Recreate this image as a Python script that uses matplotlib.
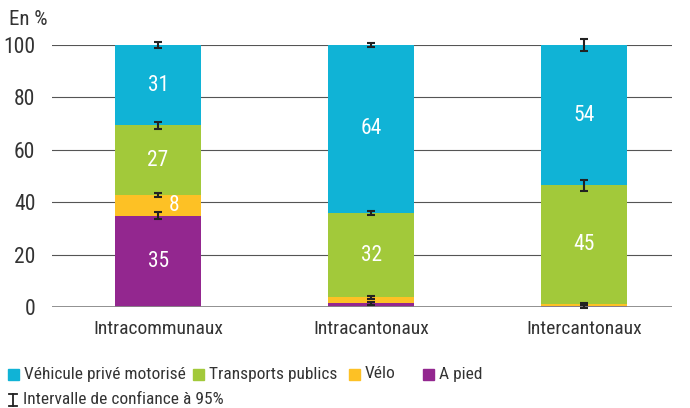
import matplotlib.pyplot as plt
import matplotlib.lines as mlines
import matplotlib.patches as mpatches
from matplotlib import font_manager
import numpy as np

installed = {f.name for f in font_manager.fontManager.ttflist}
narrow = [n for n in ['Liberation Sans Narrow', 'Roboto Condensed', 'Open Sans Condensed',
                      'Noto Sans Condensed', 'DejaVu Sans Condensed'] if n in installed]
if narrow:
    fam, fs = narrow[0], 14
else:
    fam, fs = 'Liberation Sans', 12
plt.rcParams['font.family'] = [fam, 'DejaVu Sans']

categories = ['Intracommunaux', 'Intracantonaux', 'Intercantonaux']
series = ['A pied', 'Vélo', 'Transports publics', 'Véhicule privé motorisé']
a_pied = [34.9, 1.5, 0.3]
velo = [7.7, 2.2, 0.8]
transports = [26.7, 32.2, 45.3]
vehicule = [30.7, 64.1, 53.6]
# half-width of the 95% confidence interval at the top of each segment
ci_a_pied = [1.2, 0.6, 0.5]
ci_velo = [0.8, 0.6, 0.5]
ci_transports = [1.2, 0.8, 2.0]
ci_vehicule = [1.0, 0.7, 2.3]
show_label = [[True, False, False], [True, False, False], [True, True, True], [True, True, True]]

colors = ['#93278f', '#fdc125', '#a2c93a', '#10b3d6']
values = [a_pied, velo, transports, vehicule]
cis = [ci_a_pied, ci_velo, ci_transports, ci_vehicule]

fig = plt.figure(figsize=(6.9, 4.08), dpi=100)
ax = fig.add_axes([0.0754, 0.2475, 0.8986, 0.6422])

x = np.arange(len(categories))
bottom = np.zeros(len(categories))
for vals, ci, col, lab in zip(values, cis, colors, show_label):
    vals = np.array(vals)
    ax.bar(x, vals, width=0.404, bottom=bottom, color=col, zorder=2)
    top = bottom + vals
    ax.errorbar(x, top, yerr=ci, fmt='none', ecolor='#222222', elinewidth=1.5,
                capsize=2.8, capthick=1.5, zorder=4, clip_on=False)
    for i in range(len(x)):
        if lab[i]:
            dx = 0.075 if vals[i] < 10 else 0
            ax.text(x[i] + dx, bottom[i] + vals[i] / 2, f'{int(vals[i] + 0.5)}', color='white',
                    ha='center', va='center', fontsize=fs + 1.5, zorder=5)
    bottom = top

ax.set_xlim(-0.498, 2.413)
ax.set_ylim(0, 100)
ax.set_yticks(range(0, 101, 20))
ax.set_xticks(x)
ax.set_xticklabels(categories)
ax.tick_params(length=0, labelsize=fs, labelcolor='#333333')
ax.tick_params(axis='y', labelsize=fs + 1.5, pad=12)
ax.tick_params(axis='x', pad=9)
for s in ax.spines.values():
    s.set_visible(False)
ax.yaxis.grid(True, color='#555555', lw=0.8, zorder=0)
ax.axhline(0, color='#888888', lw=2, zorder=3)
ax.set_axisbelow(True)

fig.text(0.013, 0.952, 'En %', fontsize=fs + 1, color='#333333', va='center')

# legend
lfs = fs - 1.5
leg_y = 1 - 374 / 408
legend_items = [('Véhicule privé motorisé', '#10b3d6', 8), ('Transports publics', '#a2c93a', 193),
                ('Vélo', '#fdc125', 349), ('A pied', '#93278f', 423)]
for name, col, px in legend_items:
    fig.patches.append(mpatches.Rectangle((px / 690, leg_y - 5.5 / 408), 11 / 690, 11 / 408,
                                          transform=fig.transFigure, color=col))
    fig.text((px + 16) / 690, leg_y, name, fontsize=lfs, color='#333333', va='center')

leg_y2 = 1 - 400 / 408
cx = 12.5 / 690
fig.add_artist(mlines.Line2D([cx, cx], [leg_y2 - 6 / 408, leg_y2 + 6 / 408], color='#222222', lw=1.3))
for dy in (-6, 6):
    fig.add_artist(mlines.Line2D([cx - 4 / 690, cx + 4 / 690], [leg_y2 + dy / 408] * 2,
                                 color='#222222', lw=1.3))
fig.text(23 / 690, leg_y2, 'Intervalle de confiance à 95%', fontsize=lfs, color='#333333', va='center')

fig.savefig('out.png', dpi=100)
